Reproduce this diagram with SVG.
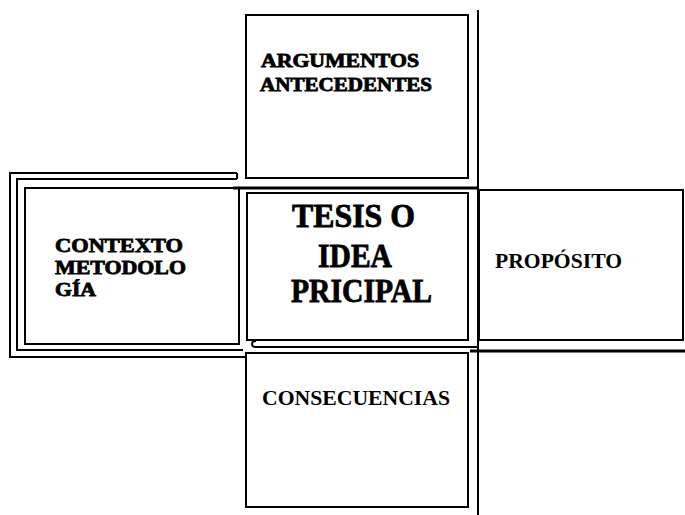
<svg xmlns="http://www.w3.org/2000/svg" width="685" height="515" viewBox="0 0 685 515">
<style>
.box{fill:none;stroke:#000;stroke-width:2}
.ln{fill:none;stroke:#000;stroke-width:2}
.thick{fill:none;stroke:#000;stroke-width:3}
.ol{font-family:"Liberation Serif","DejaVu Serif",serif;font-weight:bold;fill:#000;stroke:#000;stroke-width:0.8}
.pl{font-family:"Liberation Serif","DejaVu Serif",serif;font-weight:bold;fill:#000}
</style>
<rect width="685" height="515" fill="#fff"/>
<g id="connectors">
<line class="ln" x1="478" y1="10" x2="478" y2="515"/>
<line class="thick" x1="233" y1="188" x2="478" y2="188"/>
<path class="ln" d="M256,341 Q252,341 252,344 Q252,347 256,347 L478,347"/>
<line class="thick" x1="470" y1="351" x2="685" y2="351"/>
</g>
<g id="argumentos">
<rect class="box" x="246" y="15" width="222" height="163"/>
<text class="ol" x="261" y="67" font-size="18" textLength="158" lengthAdjust="spacingAndGlyphs">ARGUMENTOS</text>
<text class="ol" x="260" y="91" font-size="18" textLength="172" lengthAdjust="spacingAndGlyphs">ANTECEDENTES</text>
</g>
<g id="contexto">
<path class="box" d="M237,173 L10,173 L10,357 L246,357" stroke-width="2.5"/>
<path class="box" d="M237,179 L17,179 L17,350 L243,350"/>
<path class="ln" d="M237,173 L237,179"/>
<rect class="box" x="25" y="188" width="214" height="156"/>
<text class="ol" x="55" y="252" font-size="19" textLength="128" lengthAdjust="spacingAndGlyphs">CONTEXTO</text>
<text class="ol" x="55" y="274" font-size="19" textLength="131" lengthAdjust="spacingAndGlyphs">METODOLO</text>
<text class="ol" x="55" y="296" font-size="19" textLength="41" lengthAdjust="spacingAndGlyphs">GÍA</text>
</g>
<g id="tesis">
<rect class="box" x="247" y="193" width="221" height="147"/>
<text class="ol" x="292" y="227" font-size="33" textLength="123" lengthAdjust="spacingAndGlyphs">TESIS O</text>
<text class="ol" x="318" y="267" font-size="33" textLength="74" lengthAdjust="spacingAndGlyphs">IDEA</text>
<text class="ol" x="291" y="302" font-size="33" textLength="141" lengthAdjust="spacingAndGlyphs">PRICIPAL</text>
</g>
<g id="proposito">
<rect class="box" x="479" y="190" width="204" height="150" stroke-width="1.5"/>
<text class="pl" x="495" y="268" font-size="20" textLength="127" lengthAdjust="spacingAndGlyphs">PROPÓSITO</text>
</g>
<g id="consecuencias">
<rect class="box" x="246" y="353" width="222" height="154"/>
<text class="pl" x="262" y="405" font-size="20" textLength="188" lengthAdjust="spacingAndGlyphs">CONSECUENCIAS</text>
</g>
</svg>
